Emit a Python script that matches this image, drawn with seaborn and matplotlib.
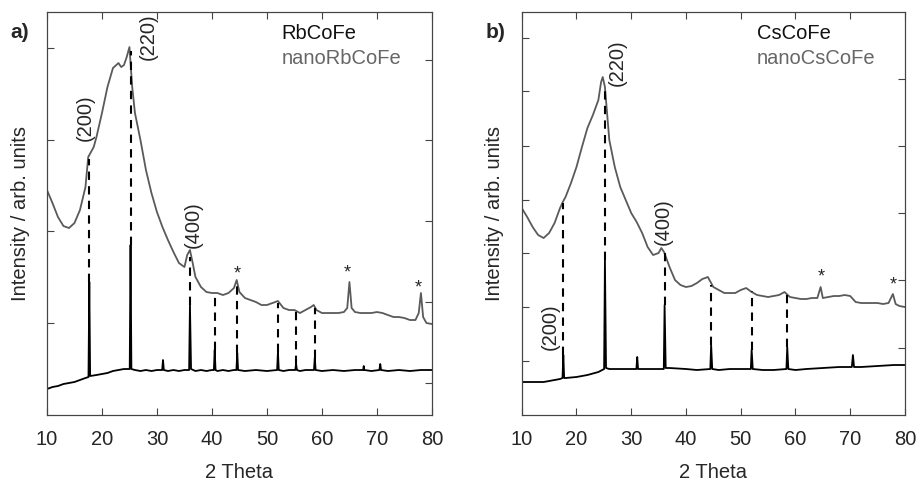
import matplotlib
matplotlib.use("Agg")
import matplotlib.pyplot as plt
import seaborn as sns

# ---- panel a: RbCoFe ----
a_nano_x = [10, 11, 12, 13, 14, 15, 16, 17, 17.5, 18, 18.5, 19, 20, 21, 22, 23, 23.5, 24, 24.5, 25,
            25.5, 26, 27, 28, 29, 30, 31, 32, 33, 34, 35, 35.5, 36, 36.5, 37, 38, 39, 40, 41, 42, 43,
            44, 44.5, 45, 46, 47, 48, 49, 50, 51, 52, 53, 54, 55, 56, 57, 58, 58.5, 59, 60, 61, 62,
            63, 64, 64.6, 65, 65.4, 66, 67, 68, 69, 70, 71, 72, 73, 74, 75, 76, 77, 77.6, 78, 78.4,
            79, 80]
a_nano_y = [225, 212, 198, 189, 187, 192, 205, 228, 258, 263, 268, 278, 302, 328, 347, 352, 348, 350, 358, 368,
            328, 302, 275, 245, 222, 203, 188, 175, 163, 152, 148, 160, 165, 152, 138, 128, 123, 122, 122, 120, 122,
            127, 135, 123, 117, 115, 113, 110, 110, 112, 114, 107, 105, 105, 102, 105, 108, 110, 105, 102, 102, 102,
            102, 103, 107, 133, 107, 103, 102, 102, 102, 103, 102, 100, 98, 98, 97, 95, 95, 102, 122, 98,
            92, 91]
a_bulk_x = [10, 11, 12, 13, 14, 15, 16, 17, 17.55, 17.7, 17.85, 19, 20, 21, 22, 23, 24, 25.05, 25.2, 25.35,
            26, 27, 28, 29, 30, 30.95, 31.1, 31.25, 32, 33, 34, 35, 35.85, 36.0, 36.2, 37, 38, 39, 40,
            40.35, 40.5, 40.65, 41, 42, 43, 44, 44.45, 44.6, 44.75, 46, 48, 50, 51.85, 52.0, 52.15, 53,
            54, 55.15, 55.3, 55.45, 56, 57, 58.55, 58.7, 58.85, 60, 62, 64, 66, 67.5, 67.6, 67.7, 69,
            70.45, 70.6, 70.75, 72, 74, 76, 78, 80]
a_bulk_y = [26, 28, 29, 31, 32, 33, 35, 37, 38, 133, 39, 40, 41, 42, 44, 45, 46, 46, 170, 46,
            45, 44, 45, 44, 45, 45, 55, 45, 44, 45, 44, 45, 45, 110, 46, 44, 45, 44, 45,
            45, 65, 45, 44, 45, 44, 45, 45, 62, 45, 44, 45, 44, 45, 63, 45, 44,
            45, 45, 51, 45, 44, 45, 45, 57, 45, 44, 45, 44, 45, 45, 49, 45, 44,
            45, 51, 45, 44, 45, 44, 45, 45]
a_drop_x = [17.7, 25.2, 36.0, 40.5, 44.6, 52.0, 55.3, 58.7]
a_drop_top = [256, 364, 158, 120, 132, 112, 106, 107]
a_drop_bot = [133, 170, 110, 65, 62, 63, 51, 57]
a_hkl = ["(200)", "(220)", "(400)"]
a_hkl_x = [16.9, 28.4, 36.6]
a_hkl_y = [297, 378, 190]
a_star_x = [44.6, 64.6, 77.5]
a_star_y = [141, 142, 127]
a_left_ticks = [92, 184, 275, 367]
a_right_ticks = [32, 113, 194, 275, 355]

# ---- panel b: CsCoFe ----
b_nano_x = [10, 11, 12, 13, 14, 15, 16, 17, 17.5, 18, 19, 20, 21, 22, 23, 24, 24.5, 24.8, 25.2, 25.5,
            26, 27, 28, 29, 30, 31, 32, 33, 34, 35, 35.5, 36, 37, 38, 39, 40, 41, 42, 43, 44, 45,
            46, 47, 48, 49, 50, 51, 52, 53, 54, 55, 56, 57, 58, 59, 60, 61, 62, 63, 64, 64.6, 65,
            66, 67, 68, 69, 70, 71, 72, 73, 74, 75, 76, 77, 77.8, 78.3, 79, 80]
b_nano_y = [207, 198, 188, 180, 177, 182, 192, 207, 213, 218, 232, 248, 268, 287, 300, 315, 333, 338, 328, 308,
            275, 248, 228, 215, 202, 193, 182, 168, 160, 162, 167, 163, 148, 135, 130, 128, 129, 132, 136, 138, 128,
            125, 122, 122, 122, 125, 127, 123, 120, 119, 118, 119, 120, 123, 118, 117, 116, 116, 117, 117, 128, 117,
            118, 119, 119, 120, 119, 113, 112, 112, 112, 112, 111, 112, 121, 111, 109, 108]
b_bulk_x = [10, 12, 14, 16, 17, 17.45, 17.6, 17.75, 18, 20, 22, 24, 25.05, 25.2, 25.4, 26, 28, 30, 30.95,
            31.1, 31.25, 32, 34, 35.95, 36.1, 36.3, 37, 40, 42, 44.45, 44.6, 44.8, 46, 48, 50, 51.85, 52.0,
            52.2, 54, 56, 58.35, 58.5, 58.7, 60, 62, 65, 68, 70.3, 70.5, 70.7, 72, 75, 78, 80]
b_bulk_y = [33, 33, 33, 35, 36, 37, 60, 37, 37, 38, 40, 43, 46, 155, 47, 46, 46, 46, 46,
            58, 46, 46, 46, 46, 110, 47, 47, 46, 45, 46, 70, 46, 45, 46, 46, 46, 65,
            46, 45, 45, 46, 68, 46, 45, 46, 47, 48, 48, 60, 48, 48, 49, 50, 50]
b_drop_x = [17.6, 25.2, 36.1, 44.6, 52.0, 58.5]
b_drop_top = [212, 326, 162, 130, 124, 122]
b_drop_bot = [60, 155, 110, 70, 65, 68]
b_hkl = ["(200)", "(220)", "(400)"]
b_hkl_x = [15.2, 27.4, 35.8]
b_hkl_y = [88, 352, 193]
b_star_x = [64.8, 77.9]
b_star_y = [138, 130]
b_left_ticks = [54, 108, 162, 215, 269, 324, 377]
b_right_ticks = [67, 135, 202, 269, 336]

x_ticks = [10, 20, 30, 40, 50, 60, 70, 80]

sns.set_style("ticks")
plt.rcParams["font.family"] = ["Liberation Sans", "DejaVu Sans"]
plt.rcParams["axes.edgecolor"] = "#444444"

fig = plt.figure(figsize=(9.19, 4.82), dpi=100)
ax_a = fig.add_axes([0.0511, 0.139, 0.4189, 0.836])
ax_b = fig.add_axes([0.5677, 0.139, 0.4170, 0.836])

panels = [
    (ax_a, "a)", "RbCoFe", "nanoRbCoFe", 52.7, a_nano_x, a_nano_y, a_bulk_x, a_bulk_y,
     a_drop_x, a_drop_top, a_drop_bot, a_hkl, a_hkl_x, a_hkl_y, a_star_x, a_star_y,
     a_left_ticks, a_right_ticks, 0.011),
    (ax_b, "b)", "CsCoFe", "nanoCsCoFe", 53.0, b_nano_x, b_nano_y, b_bulk_x, b_bulk_y,
     b_drop_x, b_drop_top, b_drop_bot, b_hkl, b_hkl_x, b_hkl_y, b_star_x, b_star_y,
     b_left_ticks, b_right_ticks, 0.528),
]

fs = 14.5
for (ax, tag, bulk_name, nano_name, name_x, nx, ny, bx, by, dx, dtop, dbot,
     hkl, hx, hy, sx, sy, lt, rt, tag_x) in panels:
    sns.lineplot(x=nx, y=ny, ax=ax, color="#5a5a5a", lw=1.3, sort=False)
    sns.lineplot(x=bx, y=by, ax=ax, color="black", lw=1.3, sort=False)
    ax.vlines(dx, dbot, dtop, colors="black", linestyles=(0, (4, 3)), lw=1.5)
    for lab, x, y in zip(hkl, hx, hy):
        ax.text(x, y, lab, rotation=90, ha="center", va="center", fontsize=fs)
    for x, y in zip(sx, sy):
        ax.text(x, y, "*", ha="center", va="center", fontsize=13)
    ax.text(name_x, 382, bulk_name, ha="left", va="center", fontsize=fs, color="#111111")
    ax.text(name_x, 357, nano_name, ha="left", va="center", fontsize=fs, color="#666666")
    fig.text(tag_x, 0.932, tag, ha="left", va="center", fontsize=15, fontweight="bold")

    ax.set_xlim(10, 80)
    ax.set_ylim(0, 403)
    ax.set_xticks(x_ticks)
    ax.set_yticks(lt)
    ax.set_yticklabels([])
    ax.tick_params(axis="x", direction="in", top=True, length=5, labelsize=fs, pad=11, color="#444444")
    ax.tick_params(axis="y", direction="in", length=5, color="#444444")
    ax.set_xlabel("2 Theta", fontsize=fs, labelpad=10)
    ax.set_ylabel("Intensity / arb. units", fontsize=fs, labelpad=9)

    ax2 = ax.twinx()
    ax2.set_ylim(0, 403)
    ax2.set_yticks(rt)
    ax2.set_yticklabels([])
    ax2.tick_params(axis="y", direction="in", length=5, color="#444444")

fig.savefig("out.png", dpi=100)
